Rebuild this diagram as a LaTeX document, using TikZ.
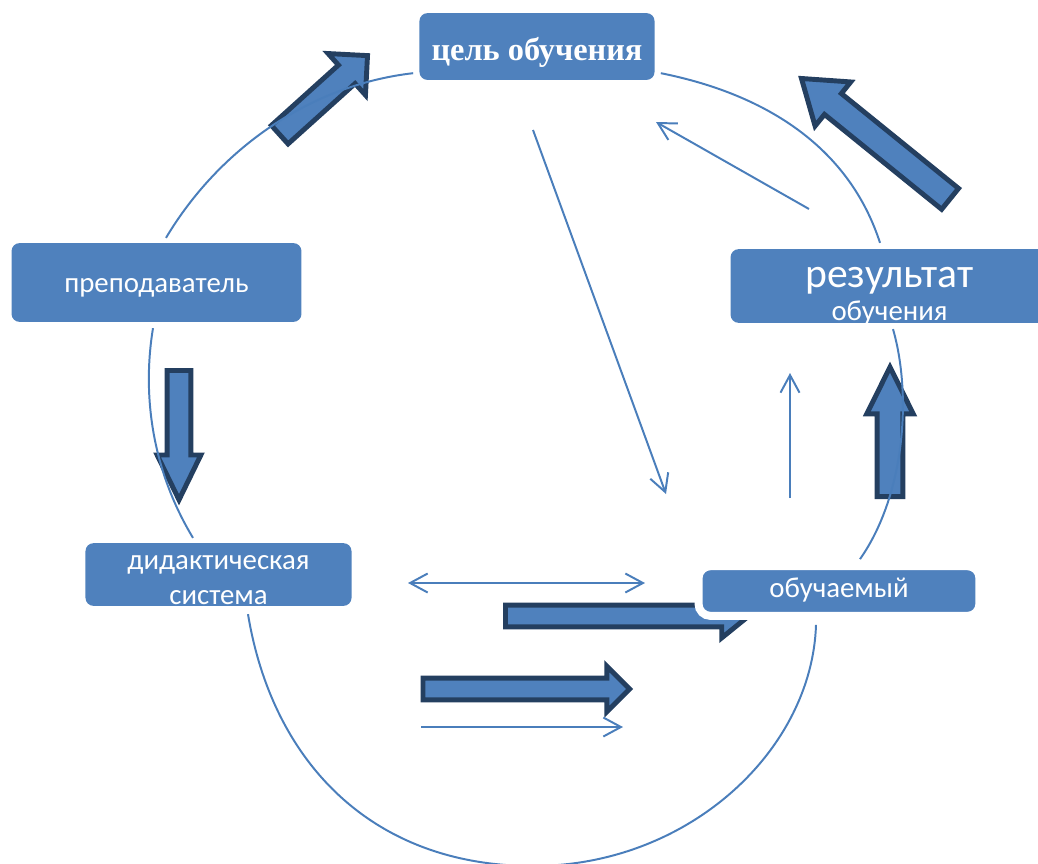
\documentclass[tikz,border=0pt]{standalone}
\usepackage{fontspec}
\setmainfont{Carlito}
\newfontfamily\goalfont{Liberation Serif}
\usepackage{xcolor}
\definecolor{BoxBlue}{HTML}{4F81BD}
\definecolor{ArrowDark}{HTML}{243F60}
\definecolor{LineBlue}{HTML}{4A7EBB}
\usetikzlibrary{calc, arrows.meta, shapes.arrows}

\begin{document}
\begin{tikzpicture}[
    x=0.025cm, y=-0.025cm,
    stage_box/.style={rectangle, rounded corners=5.7pt, fill=BoxBlue, text=white, inner sep=0pt, align=center, font=\fontsize{20.5}{25}\selectfont},
    fat_arrow/.style={single arrow, draw=ArrowDark, fill=BoxBlue, line width=3.5pt, inner xsep=0pt, single arrow head indent=0pt, anchor=tail},
    cycle_arc/.style={LineBlue, line width=1.4pt},
    barb/.tip={Straight Barb[length=12.5pt, width=13.5pt]},
    thin_arrow/.style={-barb, LineBlue, line width=1.4pt}
]
    \useasboundingbox (0,0) rectangle (1038,863);

    % 1. BLOCK ARROWS (under the boxes)
    \node[fat_arrow, rotate=42, minimum height=84pt, inner ysep=7.1pt, single arrow head extend=11pt, single arrow tip angle=90] (upleft) at (277.9,136.3) {};
    \node[fat_arrow, rotate=141, minimum height=136pt, inner ysep=7.8pt, single arrow head extend=10.6pt, single arrow tip angle=70] (upright) at (952,200.4) {};
    \node[fat_arrow, rotate=-90, minimum height=92pt, inner ysep=6.7pt, single arrow head extend=7.1pt, single arrow tip angle=52] (down) at (179,368) {};
    \node[fat_arrow, rotate=90, minimum height=92pt, inner ysep=7.4pt, single arrow head extend=7.4pt, single arrow tip angle=53] (up) at (890,499) {};
    \node[fat_arrow, minimum height=173pt, inner ysep=6pt, single arrow head extend=7.8pt, single arrow tip angle=78] (toLearner) at (503,616) {};
    \node[fat_arrow, minimum height=147pt, inner ysep=6pt, single arrow head extend=8.5pt, single arrow tip angle=90] (lower) at (420.5,689) {};

    % 2. THE STAGES
    \node[stage_box, minimum width=167.2pt, minimum height=47.5pt, text height=20.6pt, text depth=0pt] (goal) at (537,46.5) {\goalfont\bfseries\fontsize{23}{28}\selectfont цель обучения};
    \node[stage_box, minimum width=206.2pt, minimum height=56pt, text height=13.5pt, text depth=0pt] (teacher) at (156.5,282.5) {преподаватель};
    \node[stage_box, minimum width=226pt, minimum height=52.4pt, text height=48.6pt, text depth=0pt] (result) at (889.5,286) {{\fontsize{29.6}{30}\selectfont результат}\\[-2pt]обучения};
    \node[stage_box, minimum width=189.2pt, minimum height=44.6pt, text height=43.2pt, text depth=0pt] (didact) at (218.5,574.5) {дидактическая\\система};
    \node[stage_box, draw=white, line width=5.7pt, rounded corners=8.5pt, minimum width=199.8pt, minimum height=35.4pt, text height=9.9pt, text depth=0pt] (learner) at (839,591) {обучаемый};

    % 3. THE CYCLE
    \draw[cycle_arc] ($(teacher.north)+(9.5,-5)$) .. controls (219,149) and (310,85) .. ($(goal.south west)+(-6,-7)$);
    \draw[cycle_arc] ($(goal.south east)+(6,-7)$) .. controls (770,95) and (850,150) .. ($(result.north)+(-9.5,-6)$);
    \draw[cycle_arc] ($(result.south)+(3.5,6)$) .. controls (912,395) and (905,495) .. ($(learner.north)+(21,-3)$);
    \draw[cycle_arc] ($(learner.south)+(-23,5)$) .. controls (812,750) and (689,866) .. (533,866)
        .. controls (370,866) and (272,760) .. ($(didact.south)+(29.5,8)$);
    \draw[cycle_arc] ($(teacher.south)+(-3.5,6)$) .. controls (142,395) and (152,470) .. ($(didact.north)+(-25.5,-5)$);

    % 4. THIN ARROWS
    \coordinate (diagA) at (533,130);
    \coordinate (diagB) at (666,494);
    \coordinate (backA) at (809,209);
    \coordinate (backB) at (656,122);
    \coordinate (riseA) at (790,498);
    \coordinate (riseB) at (790,373);
    \coordinate (pairA) at (408,583);
    \coordinate (pairB) at (645,583);
    \coordinate (flowA) at (421,727);
    \coordinate (flowB) at (623,727);
    \draw[thin_arrow] (diagA) -- (diagB);
    \draw[thin_arrow] (backA) -- (backB);
    \draw[thin_arrow] (riseA) -- (riseB);
    \draw[thin_arrow, barb-barb] (pairA) -- (pairB);
    \draw[thin_arrow] (flowA) -- (flowB);

\end{tikzpicture}
\end{document}
